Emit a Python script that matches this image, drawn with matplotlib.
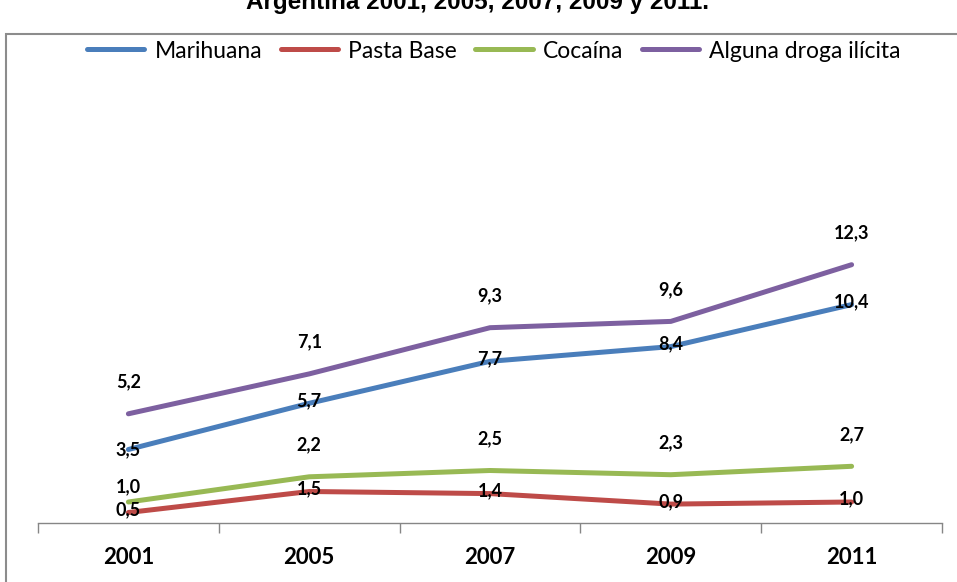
import matplotlib
matplotlib.use('Agg')
from matplotlib import pyplot as plt
from matplotlib.patches import Rectangle
import numpy as np

# datos del grafico
years = ['2001', '2005', '2007', '2009', '2011']
marihuana = [3.5, 5.7, 7.7, 8.4, 10.4]
pasta_base = [0.5, 1.5, 1.4, 0.9, 1.0]
cocaina = [1.0, 2.2, 2.5, 2.3, 2.7]
alguna_droga = [5.2, 7.1, 9.3, 9.6, 12.3]
title_text = 'Argentina 2001, 2005, 2007, 2009 y 2011.'

plt.rcParams['font.family'] = ['Lato', 'DejaVu Sans']

W, H = 957, 582
fig = plt.figure(figsize=(W / 100, H / 100), dpi=100)
ax = fig.add_axes([38 / W, (H - 523) / H, (942 - 38) / W, 420 / H])

x = np.arange(len(years))
series = [
    ('Marihuana', marihuana, '#4A7EBB', 2),
    ('Pasta Base', pasta_base, '#BE4B48', 2),
    ('Cocaína', cocaina, '#98B954', 23),
    ('Alguna droga ilícita', alguna_droga, '#7D60A0', 23),
]
for name, vals, col, off in series:
    ax.plot(x, vals, color=col, lw=3.6, solid_capstyle='round', label=name)
    for i, v in enumerate(vals):
        dy = off
        if name == 'Marihuana' and i == 0:
            dy = 0
        if name == 'Cocaína' and i == 0:
            dy = 11
        ax.annotate(f'{v:.1f}'.replace('.', ','), (x[i], v), xytext=(0, dy),
                    textcoords='offset points', ha='center', va='center',
                    fontsize=13, fontweight='bold', color='black')

ax.set_xlim(-0.5, len(years) - 0.5)
ax.set_ylim(0, 20)
for s in ['top', 'right', 'left']:
    ax.spines[s].set_visible(False)
ax.spines['bottom'].set_color('#868686')
ax.spines['bottom'].set_linewidth(1.0)
ax.set_yticks([])
ax.set_xticks(np.arange(-0.5, len(years)), minor=False)
ax.set_xticklabels([])
ax.set_xticks(x, minor=True)
ax.set_xticklabels(years, minor=True, fontsize=16, fontweight='bold')
ax.tick_params(axis='x', which='major', length=7, color='#868686', width=1)
ax.tick_params(axis='x', which='minor', length=0, pad=17)

fig.legend(loc='center', bbox_to_anchor=(494 / W, 1 - 51 / H), ncol=4,
           frameon=False, fontsize=16.5, handlelength=2.5, handletextpad=0.45,
           columnspacing=0.8)

# borde del grafico
fig.patches.append(Rectangle((6 / W, -0.01), 1.0, 1 - 34 / H + 0.01,
                             transform=fig.transFigure, fill=False,
                             edgecolor='#8c8c8c', lw=1.5))

fig.text(478 / W, 1 - 2 / H, title_text, ha='center', va='center',
         fontsize=17.5, fontweight='bold', family='Liberation Sans')

fig.savefig('out.png', dpi=100)
